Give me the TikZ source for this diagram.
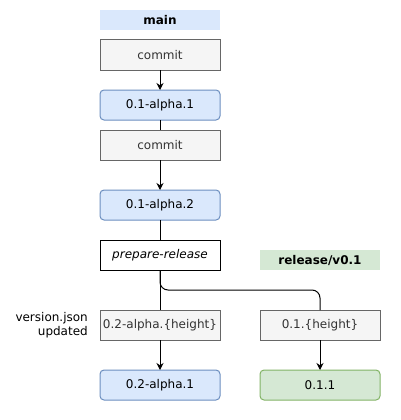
\documentclass[tikz,border=0pt]{standalone}
\usepackage{fontspec}
\setmainfont{DejaVu Sans}
\usetikzlibrary{arrows.meta}
\definecolor{grayfill}{HTML}{F5F5F5}
\definecolor{graydraw}{HTML}{666666}
\definecolor{graytext}{HTML}{333333}
\definecolor{bluefill}{HTML}{DAE8FC}
\definecolor{bluedraw}{HTML}{6C8EBF}
\definecolor{greenfill}{HTML}{D5E8D4}
\definecolor{greendraw}{HTML}{82B366}
\tikzset{
  box/.style={minimum width=120pt, minimum height=30pt, inner sep=0pt, outer sep=0pt,
    font=\fontsize{12}{14}\selectfont, line width=1pt},
  graybox/.style={box, fill=grayfill, draw=graydraw, text=graytext},
  bluebox/.style={box, rounded corners=4pt, fill=bluefill, draw=bluedraw},
  greenbox/.style={box, rounded corners=4pt, fill=greenfill, draw=greendraw},
  plainbox/.style={box, fill=white, draw=black, font=\fontsize{12}{14}\selectfont\itshape},
  header/.style={box, minimum height=20pt, font=\fontsize{12}{14}\selectfont\bfseries},
  conn/.style={line width=1pt, draw=black},
  arr/.style={conn, -{Stealth[length=7pt,width=7pt]}}
}
\begin{document}
\begin{tikzpicture}[x=1pt,y=-1pt]
\useasboundingbox (0,0) rectangle (400,420);
\node[header, fill=bluefill] (main) at (160,20) {main};
\node[graybox] (c1) at (160,55) {commit};
\node[bluebox] (a1) at (160,105) {0.1-alpha.1};
\node[graybox] (c2) at (160,145) {commit};
\node[bluebox] (a2) at (160,205) {0.1-alpha.2};
\node[plainbox] (prep) at (160,255) {prepare-release};
\node[header, fill=greenfill] (rel) at (320,260) {release/v0.1};
\node[graybox] (h2) at (160,325) {0.2-alpha.\{height\}};
\node[graybox] (h1) at (320,325) {0.1.\{height\}};
\node[bluebox] (r2) at (160,385) {0.2-alpha.1};
\node[greenbox] (r1) at (320,385) {0.1.1};
\node[anchor=east, align=right, inner sep=0pt, font=\fontsize{12}{14}\selectfont] (lbl) at (88,325) {version.json\\updated};
\coordinate (bend) at (320,290);
\draw[arr] (c1) -- (a1);
\draw[conn] (a1) -- (c2);
\draw[arr] (c2) -- (a2);
\draw[conn] (a2) -- (prep);
\draw[conn] (prep) -- (h2);
\draw[conn, rounded corners=8pt] (prep.south) |- (bend) -- (h1.north);
\draw[arr] (h2) -- (r2);
\draw[arr] (h1) -- (r1);
\end{tikzpicture}
\end{document}
